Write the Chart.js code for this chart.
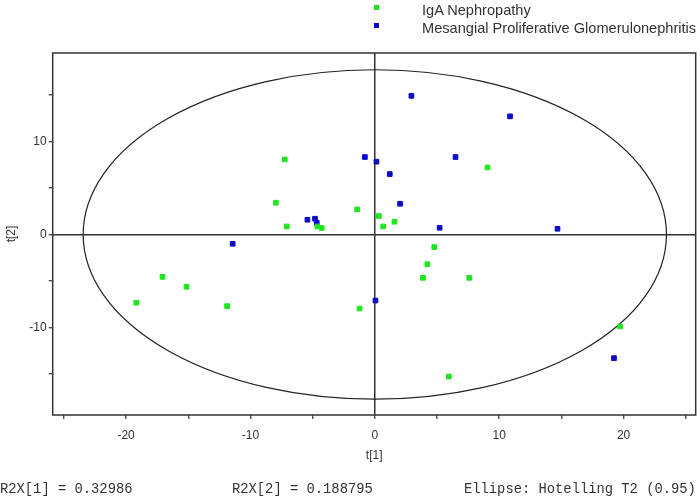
<!DOCTYPE html>
<html>
<head>
<meta charset="utf-8">
<script src="https://cdn.jsdelivr.net/npm/chart.js@4"></script>
<style>
    body { margin: 0; background: #fff; }
    #wrap { position: relative; width: 700px; height: 502px; }
    #chart { position: absolute; left: 0; top: 0; }
    .legend { position: absolute; left: 374px; font: 14.6px "Liberation Sans", Arial, sans-serif; color: #333; }
    .legend div { height: 18px; line-height: 18px; white-space: nowrap; }
    .legend span.box { display: inline-block; width: 5px; height: 5px; margin-right: 43px; vertical-align: middle; position: relative; top: -4px; }
    .footer { position: absolute; top: 482px; font: 13.8px "Liberation Mono", "Courier New", monospace; color: #333; white-space: nowrap; }
</style>
</head>
<body>
<div id="wrap">
    <canvas id="chart" width="700" height="502"></canvas>
    <div class="legend" style="top:1px">
        <div><span class="box" style="background:#1ee61e"></span>IgA Nephropathy</div>
        <div><span class="box" style="background:#0a0ac8"></span>Mesangial Proliferative Glomerulonephritis</div>
    </div>
    <div class="footer" style="left:0px">R2X[1] = 0.32986</div>
    <div class="footer" style="left:232px">R2X[2] = 0.188795</div>
    <div class="footer" style="left:464px">Ellipse: Hotelling T2 (0.95)</div>
</div>
<script>
    // 점수 데이터 (t[1], t[2])
    const igaT1 = [-7.24, -7.96, -7.08, -4.62, -4.27, 9.06, -1.42, 0.32, 1.58, 0.67,
                   -17.07, -15.14, -19.18, -11.88, 4.78, 4.22, 3.87, 7.59, -1.23, 19.71, 5.95];
    const igaT2 = [8.06, 3.41, 0.86, 0.86, 0.69, 7.2, 2.69, 1.98, 1.37, 0.86,
                   -4.55, -5.62, -7.34, -7.70, -1.36, -3.19, -4.66, -4.66, -7.96, -9.89, -15.27];
    const mpgnT1 = [-5.42, -4.81, -4.67, 2.94, 10.87, -0.80, 0.13, 6.49, 1.20, 2.03,
                    5.21, 14.69, -11.43, 0.05, 19.23];
    const mpgnT2 = [1.58, 1.69, 1.26, 14.9, 12.69, 8.32, 7.82, 8.32, 6.49, 3.30,
                    0.72, 0.61, -1.0, -7.10, -13.29];

    // Hotelling T2 타원 반축
    const ellipseA = 23.45;
    const ellipseB = 17.7;

    const axisColor = '#333333';

    function toPoints(xs, ys) {
        return xs.map((x, i) => ({ x: x, y: ys[i] }));
    }

    // 플롯 테두리 + 타원
    const framePlugin = {
        id: 'frame',
        beforeDatasetsDraw(chart) {
            const { ctx, scales } = chart;
            const cx = scales.x.getPixelForValue(0);
            const cy = scales.y.getPixelForValue(0);
            const rx = scales.x.getPixelForValue(ellipseA) - cx;
            const ry = cy - scales.y.getPixelForValue(ellipseB);
            ctx.save();
            ctx.strokeStyle = '#222';
            ctx.lineWidth = 1.2;
            ctx.beginPath();
            ctx.ellipse(cx, cy, rx, ry, 0, 0, Math.PI * 2);
            ctx.stroke();
            ctx.restore();
        },
        afterDraw(chart) {
            const { ctx, chartArea } = chart;
            ctx.save();
            ctx.strokeStyle = axisColor;
            ctx.lineWidth = 1.5;
            ctx.strokeRect(chartArea.left, chartArea.top,
                chartArea.right - chartArea.left, chartArea.bottom - chartArea.top);
            ctx.restore();
        }
    };

    const ctx = document.getElementById('chart').getContext('2d');
    const chart = new Chart(ctx, {
        type: 'scatter',
        data: {
            datasets: [{
                label: 'IgA Nephropathy',
                data: toPoints(igaT1, igaT2),
                backgroundColor: '#1ee61e',
                borderColor: '#1ee61e',
                borderWidth: 1,
                pointStyle: 'rect',
                pointRadius: 3.3,
                pointHoverRadius: 3.3
            }, {
                label: 'Mesangial Proliferative Glomerulonephritis',
                data: toPoints(mpgnT1, mpgnT2),
                backgroundColor: '#0a0ac8',
                borderColor: '#0a0ac8',
                borderWidth: 1,
                pointStyle: 'rect',
                pointRadius: 3.3,
                pointHoverRadius: 3.3
            }]
        },
        options: {
            responsive: false,
            animation: false,
            layout: { padding: { left: 0, top: 53, right: 3, bottom: 37 } },
            plugins: {
                legend: { display: false },
                tooltip: { enabled: false }
            },
            scales: {
                x: {
                    type: 'linear',
                    min: -25.9,
                    max: 25.8,
                    afterFit(scale) { scale.height = 50; },
                    ticks: {
                        stepSize: 5,
                        includeBounds: false,
                        maxRotation: 0,
                        padding: 9,
                        color: '#333',
                        font: { family: 'Liberation Sans', size: 12 },
                        callback: v => (v % 10 === 0 ? String(v) : '')
                    },
                    grid: {
                        color: c => (c.tick && c.tick.value === 0 ? axisColor : 'transparent'),
                        lineWidth: 1.5,
                        tickColor: axisColor,
                        tickLength: 4,
                        tickWidth: 1.2
                    },
                    border: { display: false },
                    title: {
                        display: true,
                        text: 't[1]',
                        color: '#333',
                        padding: { top: 0, bottom: 2 },
                        font: { family: 'Liberation Sans', size: 12 }
                    }
                },
                y: {
                    type: 'linear',
                    min: -19.4,
                    max: 19.5,
                    afterFit(scale) { scale.width = 52.7; },
                    ticks: {
                        stepSize: 5,
                        includeBounds: false,
                        padding: 2,
                        color: '#333',
                        font: { family: 'Liberation Sans', size: 12 },
                        callback: v => (v % 10 === 0 ? String(v) : '')
                    },
                    grid: {
                        color: c => (c.tick && c.tick.value === 0 ? axisColor : 'transparent'),
                        lineWidth: 1.5,
                        tickColor: axisColor,
                        tickLength: 4,
                        tickWidth: 1.2
                    },
                    border: { display: false },
                    title: {
                        display: true,
                        text: 't[2]',
                        color: '#333',
                        padding: { top: 4, bottom: 0 },
                        font: { family: 'Liberation Sans', size: 12 }
                    }
                }
            }
        },
        plugins: [framePlugin]
    });
</script>
</body>
</html>
